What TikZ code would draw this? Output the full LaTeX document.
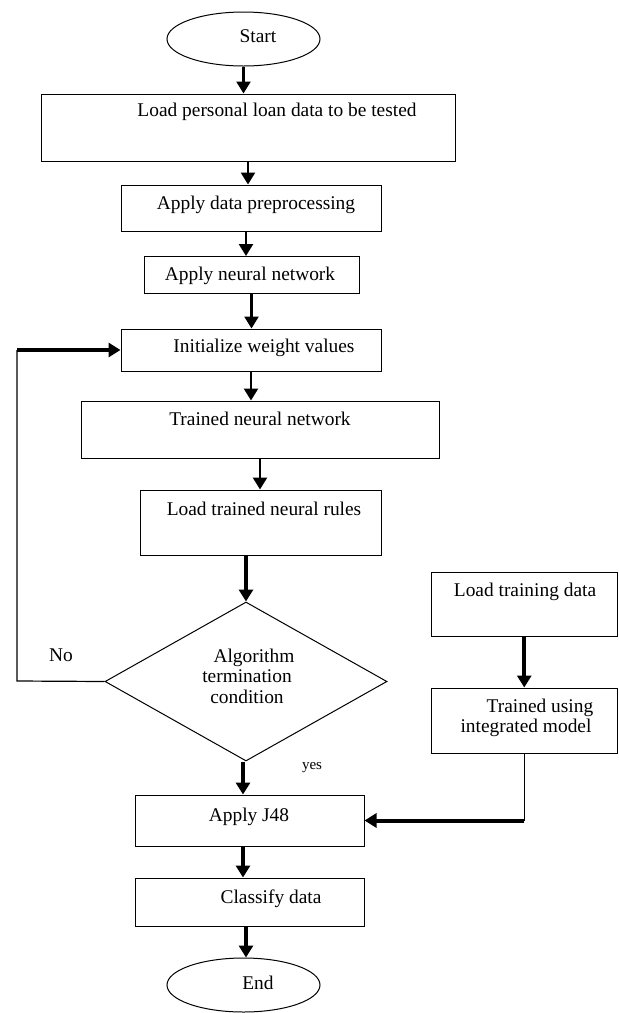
\documentclass[tikz,border=0pt]{standalone}
\usepackage{fontspec}
\setmainfont{Liberation Serif}
\usetikzlibrary{shapes.geometric,fit,arrows.meta}

\tikzset{
  box/.style={draw,line width=0.5pt,inner sep=0pt},
  oval/.style={draw,ellipse,line width=0.5pt,inner sep=0pt,minimum width=76.5pt,minimum height=27pt},
  txt/.style={font=\fontsize{9.7}{10.3}\selectfont,inner sep=0pt,align=center},
  flow/.style={line width=1.25pt,-{Triangle[width=7pt,length=6pt]}},
  heavyflow/.style={line width=2pt,-{Triangle[width=7pt,length=6pt]}},
  wire/.style={line width=0.6pt}
}

\begin{document}
\begin{tikzpicture}[x=0.5pt,y=-0.5pt]
\useasboundingbox (0,0) rectangle (619,1013);
% main column
\node[oval] (start) at (243.5,39) {};
\node[txt] (starttxt) at (258,36) {Start};
\node[box,fit={(41,94) (455,161)}] (load) {};
\node[txt] (loadtxt) at (277,112) {Load personal loan data to be tested};
\node[box,fit={(121,185) (381,231)}] (prep) {};
\node[txt] (preptxt) at (256,205) {Apply data preprocessing};
\node[box,fit={(144,256) (359,293)}] (nn) {};
\node[txt] (nntxt) at (250,276) {Apply neural network};
\node[box,fit={(121,329) (381,371)}] (init) {};
\node[txt] (inittxt) at (264,348) {Initialize weight values};
\node[box,fit={(81,401) (439,458)}] (trained) {};
\node[txt] (trainedtxt) at (260,419) {Trained neural network};
\node[box,fit={(140,490) (381,555)}] (rules) {};
\node[txt] (rulestxt) at (264,509) {Load trained neural rules};
\node[draw,diamond,line width=0.5pt,inner sep=0pt,minimum width=141pt,minimum height=79.5pt] (cond) at (246,681.5) {};
\node[txt] (condtxt) at (247,676) {\hspace*{7pt}Algorithm\\termination\\condition};
\node[box,fit={(135,795) (364,846)}] (j48) {};
\node[txt] (j48txt) at (249,817) {Apply J48};
\node[box,fit={(135,878) (364,926)}] (classify) {};
\node[txt] (classifytxt) at (271,899) {Classify data};
\node[oval] (end) at (243.5,985) {};
\node[txt] (endtxt) at (258,983) {End};
% training branch
\node[box,fit={(431,572) (617.5,636)}] (ltd) {};
\node[txt] (ltdtxt) at (525,592) {Load training data};
\node[box,fit={(431,688) (617.5,753)}] (tuim) {};
\node[txt] (tuimtxt) at (526,718) {\hspace*{14pt}Trained using\\integrated model};
% labels
\node[txt] (nolbl) at (61,655) {No};
\node[txt,font=\fontsize{7.5}{8}\selectfont] (yeslbl) at (312,768) {yes};
\coordinate (nocorner) at (17,681);

\draw[flow] (start.south) -- (start.south |- load.north);
\draw[flow] (load.south) -- (load.south |- prep.north);
\draw[flow] (246,231) -- (246,256);
\draw[flow] (nn.south) -- (nn.south |- init.north);
\draw[flow] (init.south) -- (init.south |- trained.north);
\draw[flow] (trained.south) -- (trained.south |- rules.north);
\draw[heavyflow] (cond.north |- rules.south) -- (cond.north);
\draw[wire] (cond.west) -- (nocorner) -- (nocorner |- init.west);
\draw[heavyflow] (nocorner |- init.west) -- (init.west);
\draw[heavyflow] ([xshift=-1.5pt]cond.south) -- ([xshift=-1.5pt]cond.south |- j48.north);
\draw[heavyflow] ([xshift=-1.5pt]cond.south |- j48.south) -- ([xshift=-1.5pt]cond.south |- classify.north);
\draw[heavyflow] (cond.south |- classify.south) -- (cond.south |- end.north);
\draw[heavyflow] (ltd.south) -- (ltd.south |- tuim.north);
\draw[wire] (tuim.south) -- (tuim.south |- j48.east);
\draw[heavyflow] (tuim.south |- j48.east) -- (j48.east);
\end{tikzpicture}
\end{document}
